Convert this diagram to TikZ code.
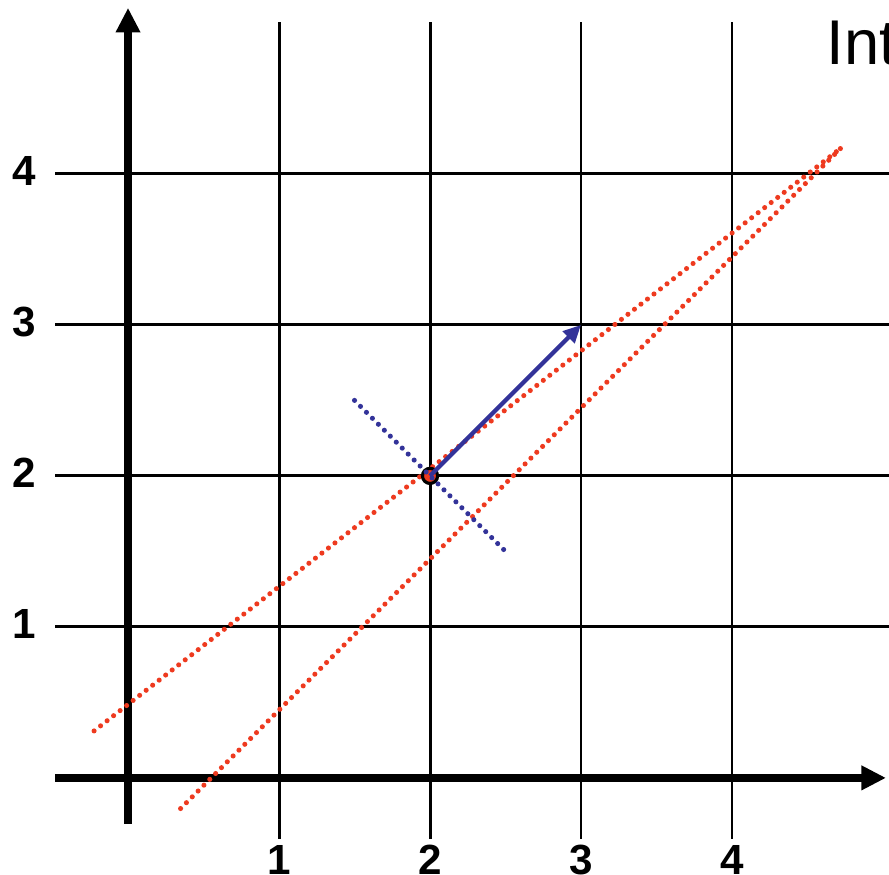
\documentclass[tikz,border=0pt]{standalone}
\usepackage{fontspec}
\setmainfont{Liberation Sans}
\usetikzlibrary{arrows.meta}
\definecolor{dotred}{HTML}{EE3A1F}
\definecolor{vecblue}{HTML}{333399}

\begin{document}
\begin{tikzpicture}[x=1.51cm,y=1.51cm,
  gridline/.style={line width=0.85pt},
  axis/.style={line width=2.3pt,-{Triangle[length=7pt,width=6.6pt]}},
  reddots/.style={dotred,line width=1.45pt,line cap=round,dash pattern=on 0pt off 2.35pt},
  bluedots/.style={vecblue,line width=1.45pt,line cap=round,dash pattern=on 0pt off 2.4pt},
  vec/.style={vecblue,line width=1.2pt,-{Triangle[length=5pt,width=4.6pt]}},
  ticklabel/.style={font=\fontsize{12}{14}\selectfont\bfseries}]

\useasboundingbox (-0.848,-0.642) rectangle (5.040,5.152);

% Grid
\foreach \x in {1,...,4}
  \draw[gridline] (\x,-0.404)--(\x,5.007);
\foreach \y in {1,...,4}
  \draw[gridline] (-0.483,\y)--(5.1,\y);

% Axes
\draw[axis] (-0.483,0)--(5.02,0);
\draw[axis] (0,-0.305)--(0,5.10);

% Tick labels
\foreach \x in {1,...,4}
  \node[ticklabel] (xl\x) at (\x,-0.545) {\x};
\foreach \y in {1,...,4}
  \node[ticklabel] (yl\y) at (-0.686,\y+0.02) {\y};

% Red dotted lines
\draw[reddots] (-0.225,0.311)--(4.72,4.17);
\draw[reddots] (0.348,-0.203)--(4.72,4.17);

% Point
\node[circle,fill=dotred,draw=black,line width=0.9pt,inner sep=0pt,minimum size=4.3pt] (pt) at (2,2) {};

% Blue dotted line and vector
\draw[bluedots] (1.5,2.5)--(2.5,1.5);
\coordinate (tip) at (3,3);
\draw[vec] (pt.center)--(tip);

% Title (cut off)
\node[anchor=base west,inner sep=0pt,font=\fontsize{18}{20}\selectfont] (ttl) at (4.622,4.722) {Int};

\end{tikzpicture}
\end{document}
